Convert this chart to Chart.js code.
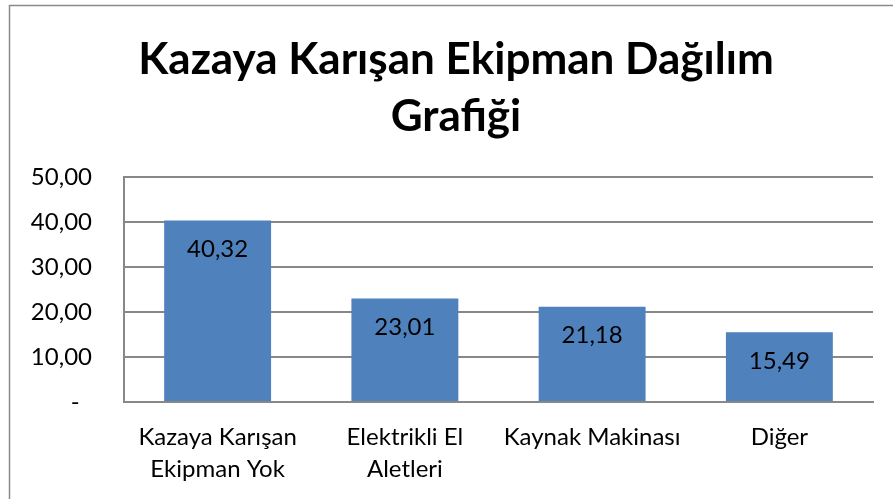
<!DOCTYPE html>
<html>
<head>
<meta charset="utf-8">
<script src="https://cdn.jsdelivr.net/npm/chart.js@4/dist/chart.umd.min.js"></script>
<style>
  html, body { margin: 0; padding: 0; background: #fff; }
  #wrap { width: 893px; height: 499px; position: relative; }
</style>
</head>
<body>
<div id="wrap"><canvas id="c" width="893" height="499"></canvas></div>
<script>
const TITLE_LINES = ['Kazaya Karışan Ekipman Dağılım', 'Grafiği'];
const CATEGORIES = [['Kazaya Karışan', 'Ekipman Yok'], ['Elektrikli El', 'Aletleri'], 'Kaynak Makinası', 'Diğer'];
const VALUES = [40.32, 23.01, 21.18, 15.49];
const Y_MIN = 0, Y_MAX = 50, Y_STEP = 10;

const FONT = 'Lato, "Open Sans", sans-serif';
const fmt = v => v === 0 ? '-  ' : v.toFixed(2).replace('.', ',');

const frameTitle = {
  id: 'frameTitle',
  beforeDraw(chart) {
    const ctx = chart.ctx;
    ctx.save();
    ctx.fillStyle = '#fff';
    ctx.fillRect(0, 0, chart.width, chart.height);
    ctx.strokeStyle = '#8a8a8a';
    ctx.lineWidth = 1.5;
    ctx.strokeRect(9.5, 5.5, chart.width + 20, chart.height + 20);
    ctx.fillStyle = '#000';
    ctx.font = 'bold 44px ' + FONT;
    ctx.textAlign = 'center';
    ctx.textBaseline = 'alphabetic';
    ctx.fillText(TITLE_LINES[0], 456, 74);
    ctx.fillText(TITLE_LINES[1], 456, 131);
    ctx.restore();
  }
};

const barLabels = {
  id: 'barLabels',
  afterDatasetsDraw(chart) {
    const ctx = chart.ctx;
    const meta = chart.getDatasetMeta(0);
    ctx.save();
    ctx.fillStyle = '#000';
    ctx.font = '24px ' + FONT;
    ctx.textAlign = 'center';
    ctx.textBaseline = 'middle';
    meta.data.forEach((bar, i) => {
      ctx.fillText(fmt(VALUES[i]), bar.x, bar.y + 29);
    });
    ctx.restore();
  }
};

new Chart(document.getElementById('c'), {
  type: 'bar',
  data: {
    labels: CATEGORIES,
    datasets: [{
      data: VALUES,
      backgroundColor: '#4F81BD',
      borderWidth: 0,
      categoryPercentage: 1,
      barPercentage: 0.571
    }]
  },
  options: {
    responsive: false,
    animation: false,
    devicePixelRatio: 1,
    layout: { padding: { left: 10, right: 20, top: 177, bottom: 0 } },
    plugins: { legend: { display: false }, title: { display: false }, tooltip: { enabled: false } },
    scales: {
      x: {
        grid: { display: false, drawTicks: false },
        border: { display: true, color: '#888888', width: 2 },
        ticks: { color: '#000', font: { family: FONT, size: 24, lineHeight: 1.3 }, padding: 20, maxRotation: 0, autoSkip: false },
        afterFit(scale) { scale.height = 97; }
      },
      y: {
        min: Y_MIN, max: Y_MAX,
        grid: { color: '#888888', lineWidth: 2, drawTicks: false },
        border: { display: true, color: '#888888', width: 2 },
        ticks: { stepSize: Y_STEP, color: '#000', font: { family: FONT, size: 24 }, padding: 32, callback: v => fmt(v) },
        afterFit(scale) { scale.width = 114; }
      }
    }
  },
  plugins: [frameTitle, barLabels]
});
</script>
</body>
</html>
